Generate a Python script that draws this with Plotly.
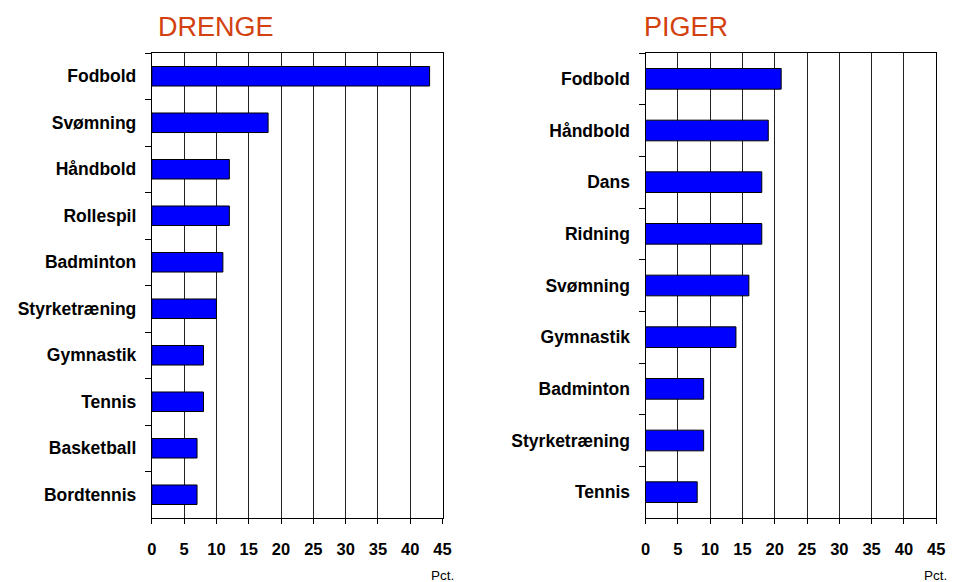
import plotly.graph_objects as go
from plotly.subplots import make_subplots

# Drenge (boys)
drenge_sport = ['Fodbold', 'Svømning', 'Håndbold', 'Rollespil', 'Badminton',
                'Styrketræning', 'Gymnastik', 'Tennis', 'Basketball', 'Bordtennis']
drenge_pct = [43, 18, 12, 12, 11, 10, 8, 8, 7, 7]

# Piger (girls)
piger_sport = ['Fodbold', 'Håndbold', 'Dans', 'Ridning', 'Svømning',
               'Gymnastik', 'Badminton', 'Styrketræning', 'Tennis']
piger_pct = [21, 19, 18, 18, 16, 14, 9, 9, 8]

x_ticks = [0, 5, 10, 15, 20, 25, 30, 35, 40, 45]

W, H = 959, 582
FONT = 'Liberation Sans, Arial, sans-serif'
TITLE_COL = '#D2410F'

fig = make_subplots(rows=1, cols=2)

fig.add_trace(go.Bar(x=drenge_pct, y=drenge_sport, orientation='h', width=0.42,
                     marker=dict(color='#0000FF', line=dict(color='black', width=1))),
              row=1, col=1)
fig.add_trace(go.Bar(x=piger_pct, y=piger_sport, orientation='h', width=0.40,
                     marker=dict(color='#0000FF', line=dict(color='black', width=1))),
              row=1, col=2)

xcommon = dict(range=[0, 45], tickvals=x_ticks, showgrid=True, gridcolor='#222222', gridwidth=1,
               showline=True, linecolor='black', linewidth=1, mirror=True,
               ticks='outside', ticklen=5, tickcolor='black', zeroline=False,
               ticklabelstandoff=11,
               tickfont=dict(family=FONT, size=16.5, color='black', weight='bold'))
ycommon = dict(autorange='reversed', showgrid=False, showline=True, linecolor='black', linewidth=1,
               mirror=True, ticks='outside', ticklen=6, tickcolor='black', tickson='boundaries',
               ticklabelstandoff=11,
               tickfont=dict(family=FONT, size=17.5, color='black', weight='bold'))

fig.update_xaxes(**xcommon)
fig.update_yaxes(**ycommon)

top, bot = 53, 518
fig.update_layout(
    xaxis=dict(domain=[149 / W, 444 / W]),
    xaxis2=dict(domain=[650 / W, 945 / W]),
    width=W, height=H,
    margin=dict(l=0, r=0, t=top, b=H - bot),
    paper_bgcolor='white', plot_bgcolor='white',
    showlegend=False,
)

ph = bot - top
fig.add_annotation(text='DRENGE', xref='paper', yref='paper', x=153 / W, y=1 + 26 / ph,
                   xanchor='left', yanchor='middle', showarrow=False,
                   font=dict(family=FONT, size=27, color=TITLE_COL))
fig.add_annotation(text='PIGER', xref='paper', yref='paper', x=646 / W, y=1 + 26 / ph,
                   xanchor='left', yanchor='middle', showarrow=False,
                   font=dict(family=FONT, size=27, color=TITLE_COL))
fig.add_annotation(text='Pct.', xref='paper', yref='paper', x=458 / W, y=-57 / ph,
                   xanchor='right', yanchor='middle', showarrow=False,
                   font=dict(family=FONT, size=13.5, color='black'))
fig.add_annotation(text='Pct.', xref='paper', yref='paper', x=958 / W, y=-57 / ph,
                   xanchor='right', yanchor='middle', showarrow=False,
                   font=dict(family=FONT, size=13.5, color='black'))

# drop the default 8px body margin so the figure sits at the page corner
fig.write_html("out.html", config={'displayModeBar': False},
               post_script="document.body.style.margin='0';")
